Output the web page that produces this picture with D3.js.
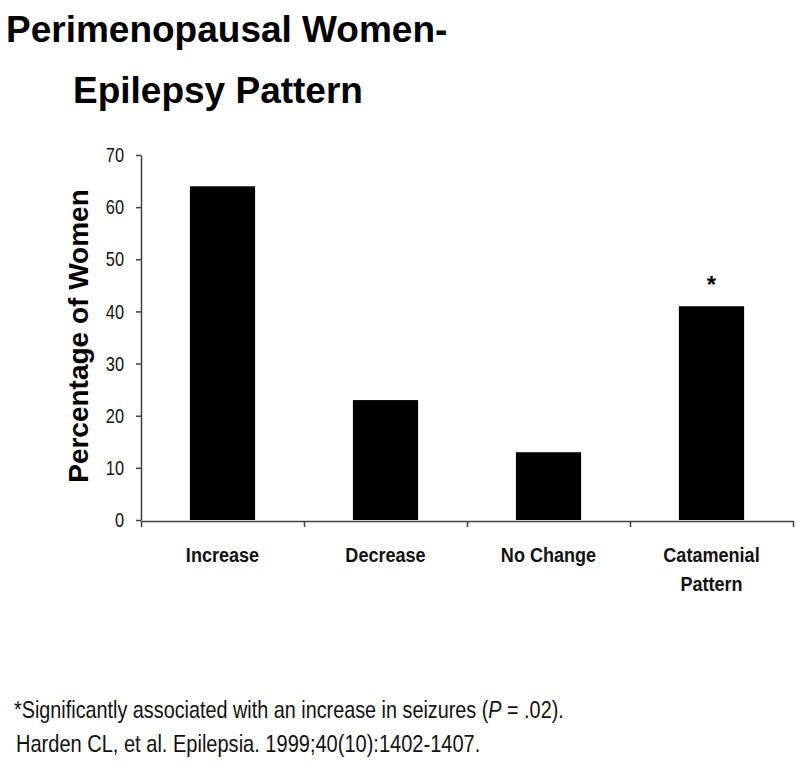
<!DOCTYPE html>
<html>
<head>
<meta charset="utf-8">
<script src="https://cdn.jsdelivr.net/npm/d3@7/dist/d3.min.js"></script>
<style>
  html, body { margin: 0; padding: 0; background: #fff; }
  svg { display: block; }
  text { font-family: "Liberation Sans", Arial, sans-serif; }
</style>
</head>
<body>
<script>
const categories = ["Increase", "Decrease", "No Change", "Catamenial\nPattern"];
const values = [64, 23, 13, 41];
const marks = ["", "", "", "*"];
const yTicks = [0, 10, 20, 30, 40, 50, 60, 70];
const titleLines = ["Perimenopausal Women-", "Epilepsy Pattern"];
const yTitle = "Percentage of Women";
const footnotes = ["*Significantly associated with an increase in seizures (", "P", " = .02).", "Harden CL, et al. Epilepsia. 1999;40(10):1402-1407."];

(function () {
const W = 800, H = 775;
const svg = d3.select("body").append("svg").attr("width", W).attr("height", H);

const pLeft = 141, pRight = 793, pTop = 155, pBottom = 520;
const y = d3.scaleLinear().domain([0, 70]).range([pBottom, pTop]);
const x = d3.scaleBand().domain(categories).range([pLeft, pRight]).paddingInner(0.6).paddingOuter(0.3);
const xEdge = d3.scaleLinear().domain([0, categories.length]).range([pLeft, pRight]);

// condensed text helper
function narrowText(parent, tx, ty, sx) {
  return parent.append("g").attr("transform", `translate(${tx},${ty}) scale(${sx},1)`).append("text");
}

// Title
svg.append("text").attr("x", 6).attr("y", 42)
  .attr("font-size", 37).attr("font-weight", "bold").attr("fill", "#000").text(titleLines[0]);
svg.append("text").attr("x", 73).attr("y", 103)
  .attr("font-size", 37).attr("font-weight", "bold").attr("fill", "#000").text(titleLines[1]);

// Bars
svg.append("g").selectAll("rect").data(values).join("rect")
  .attr("x", (d, i) => x(categories[i]))
  .attr("width", x.bandwidth())
  .attr("y", d => y(d))
  .attr("height", d => y(0) - y(d))
  .attr("fill", "#000");

// Marks
svg.append("g").selectAll("text").data(values).join("text")
  .attr("x", (d, i) => x(categories[i]) + x.bandwidth() / 2)
  .attr("y", d => y(d) - 13)
  .attr("text-anchor", "middle")
  .attr("font-size", 24).attr("font-weight", "bold")
  .text((d, i) => marks[i]);

// Y axis
const yAxis = svg.append("g").attr("transform", `translate(${pLeft},0)`)
  .call(d3.axisLeft(y).tickValues(yTicks).tickSize(5).tickSizeOuter(0).tickPadding(12));
yAxis.selectAll("path, line").attr("stroke", "#404040").attr("stroke-width", 1.5);
yAxis.selectAll(".tick text")
  .attr("x", 0)
  .attr("transform", "translate(-17,0) scale(0.82,1)")
  .attr("font-family", "Liberation Sans, Arial, sans-serif")
  .attr("font-size", 20).attr("fill", "#111").attr("dy", "0.33em");

// X axis (ticks at category edges)
const xAxis = svg.append("g").attr("transform", `translate(0,${pBottom + 1})`)
  .call(d3.axisBottom(xEdge).tickValues(d3.range(categories.length + 1)).tickFormat("").tickSize(6).tickSizeOuter(0));
xAxis.selectAll("path, line").attr("stroke", "#404040").attr("stroke-width", 1.5);

// X labels
const xg = svg.append("g");
categories.forEach(c => {
  const t = narrowText(xg, x(c) + x.bandwidth() / 2, 562, 0.86)
    .attr("text-anchor", "middle")
    .attr("font-size", 21).attr("font-weight", "bold").attr("fill", "#111");
  t.selectAll("tspan").data(c.split("\n")).join("tspan")
    .attr("x", 0)
    .attr("dy", (p, i) => i === 0 ? 0 : 29)
    .text(p => p);
});

// Y title
svg.append("text")
  .attr("transform", `translate(88,336) rotate(-90)`)
  .attr("text-anchor", "middle")
  .attr("font-size", 28).attr("font-weight", "bold").attr("fill", "#000")
  .text(yTitle);

// Footnotes
const f1 = narrowText(svg, 14, 718, 0.825).attr("font-size", 24).attr("fill", "#111");
f1.append("tspan").text(footnotes[0]);
f1.append("tspan").attr("font-style", "italic").text(footnotes[1]);
f1.append("tspan").text(footnotes[2]);
narrowText(svg, 16, 752, 0.835).attr("font-size", 24).attr("fill", "#111").text(footnotes[3]);
})();
</script>
</body>
</html>
